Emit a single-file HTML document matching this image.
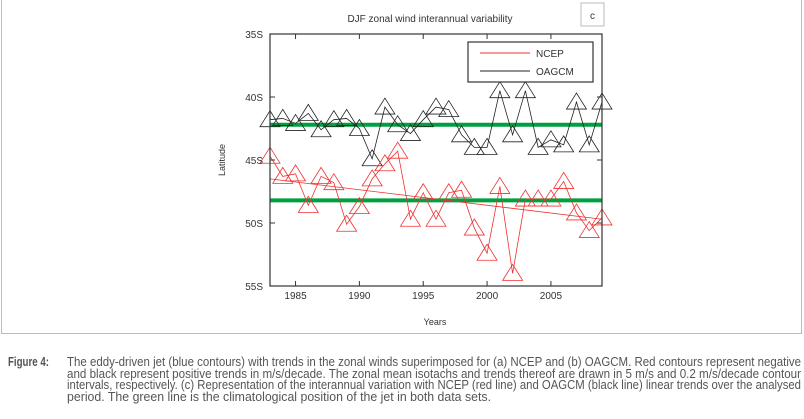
<!DOCTYPE html>
<html><head><meta charset="utf-8"><style>
body{margin:0;width:804px;height:419px;background:#fff;overflow:hidden;position:relative;font-family:"Liberation Sans",sans-serif;}
#frame{position:absolute;left:1px;top:-2px;width:799px;height:334px;border:1px solid #bbb;}
.cap{position:absolute;left:67px;font-size:13px;color:#555;line-height:12px;white-space:nowrap;transform-origin:0 0;}
</style></head><body>
<div id="frame"></div>
<svg id="chart" width="804" height="340" style="position:absolute;left:0;top:0" font-family="Liberation Sans, sans-serif"></svg>
<div class="cap fit" data-w="41" style="left:8px;top:356px;font-weight:bold">Figure 4:</div>
<div class="cap fit" data-w="734" style="top:356px">The eddy-driven jet (blue contours) with trends in the zonal winds superimposed for (a) NCEP and (b) OAGCM. Red contours represent negative</div>
<div class="cap fit" data-w="734" style="top:367.7px">and black represent positive trends in m/s/decade. The zonal mean isotachs and trends thereof are drawn in 5 m/s and 0.2 m/s/decade contour</div>
<div class="cap fit" data-w="734" style="top:379.4px">intervals, respectively. (c) Representation of the interannual variation with NCEP (red line) and OAGCM (black line) linear trends over the analysed</div>
<div class="cap fit" data-w="424" style="top:391.1px">period. The green line is the climatological position of the jet in both data sets.</div>
<script>
document.querySelectorAll('.fit').forEach(e=>{const w=e.getBoundingClientRect().width;e.style.transform='scaleX('+(+e.dataset.w/w)+')';});
</script>
<script>
const years=[1983,1984,1985,1986,1987,1988,1989,1990,1991,1992,1993,1994,1995,1996,1997,1998,1999,2000,2001,2002,2003,2004,2005,2006,2007,2008,2009];
const oagcm=[41.8,41.7,42.1,41.3,42.6,41.8,41.7,42.5,44.9,40.8,42.2,42.9,41.8,40.8,41.0,43.0,44.0,44.0,39.5,43.0,39.5,44.0,43.4,43.8,40.4,43.8,40.4];
const ncep=[44.7,46.3,46.1,48.6,46.3,46.8,50.1,48.7,46.5,45.3,44.3,49.7,47.6,49.7,47.6,47.4,50.4,52.4,47.1,54.0,48.1,48.1,48.1,46.7,49.2,50.6,49.6];
const ncepTrend=[46.5,49.7];
const climatology=[42.2,48.2];
const xTicks=[1985,1990,1995,2000,2005];
const yTicks=[35,40,45,50,55];
const L=270,R=602,T=34,B=286;
const x=v=>L+(v-1983)/(2009-1983)*(R-L);
const y=v=>T+(v-35)/(55-35)*(B-T);
const svg=document.getElementById('chart');
const NS='http://www.w3.org/2000/svg';
function mk(tag,attrs,parent){const e=document.createElementNS(NS,tag);for(const k in attrs)e.setAttribute(k,attrs[k]);(parent||svg).appendChild(e);return e;}
let t=mk('text',{x:430,y:22,'font-size':10,fill:'#333','text-anchor':'middle'});t.textContent='DJF zonal wind interannual variability';

let pb=mk('rect',{x:581,y:3,width:23,height:23,fill:'#fff',stroke:'#bbb'});

t=mk('text',{x:592.5,y:19,'font-size':10,fill:'#333','text-anchor':'middle'});t.textContent='c';

climatology.forEach((c,i)=>{const l=mk('line',{x1:L,x2:R,y1:y(c),y2:y(c),stroke:'#00a040','stroke-width':4});
});
function series(vals,col,name){
 const g=mk('g',{});
 const p=mk('polyline',{points:vals.map((v,i)=>x(years[i])+','+y(v)).join(' '),fill:'none',stroke:col,'stroke-width':0.8},g);
 
 vals.forEach((v,i)=>{const cx=x(years[i]),cy=y(v);
  const m=mk('polygon',{points:`${cx},${cy-9} ${cx-10},${cy+7} ${cx+10},${cy+7}`,fill:'none',stroke:col,'stroke-width':0.8},g);
  });
}
series(oagcm,'#222','oagcm');
series(ncep,'#f03030','ncep');
let tr=mk('line',{x1:x(1983),x2:x(2009),y1:y(ncepTrend[0]),y2:y(ncepTrend[1]),stroke:'#f03030','stroke-width':0.8});

let ax=mk('rect',{x:L,y:T,width:R-L,height:B-T,fill:'none',stroke:'#333','stroke-width':1.2});

xTicks.forEach(v=>{mk('line',{x1:x(v),x2:x(v),y1:B,y2:B-5,stroke:'#333'});mk('line',{x1:x(v),x2:x(v),y1:T,y2:T+5,stroke:'#333'});
 const l=mk('text',{x:x(v),y:B+13,'font-size':10,fill:'#333','text-anchor':'middle'});l.textContent=v;
 });
yTicks.forEach(v=>{mk('line',{x1:L,x2:L+5,y1:y(v),y2:y(v),stroke:'#333'});mk('line',{x1:R,x2:R-5,y1:y(v),y2:y(v),stroke:'#333'});
 const l=mk('text',{x:L-7,y:y(v)+4,'font-size':10,fill:'#333','text-anchor':'end'});l.textContent=v+'S';
 });
t=mk('text',{x:435,y:325,'font-size':9,fill:'#333','text-anchor':'middle'});t.textContent='Years';

t=mk('text',{x:225,y:160,'font-size':9,fill:'#333','text-anchor':'middle',transform:'rotate(-90 225 160)'});t.textContent='Latitude';

const lg=mk('g',{});
mk('rect',{x:468,y:42,width:125,height:40,fill:'#fff',stroke:'#333','stroke-width':1.2},lg);
[['NCEP','#f03030',53],['OAGCM','#222',71]].forEach(([n,c,yy])=>{
 const e=mk('g',{},lg);
 mk('line',{x1:480,x2:530,y1:yy,y2:yy,stroke:c,'stroke-width':1},e);
 const tt=mk('text',{x:536,y:yy+4,'font-size':10,fill:'#333'},e);tt.textContent=n;});
</script>
</body></html>
